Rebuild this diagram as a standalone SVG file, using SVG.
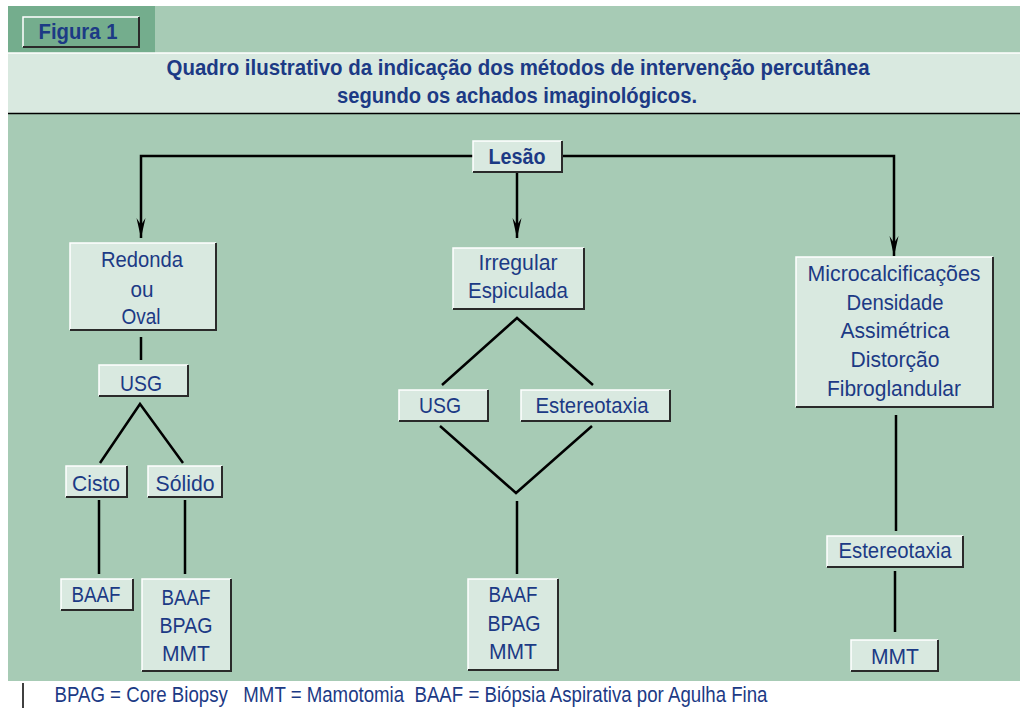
<svg xmlns="http://www.w3.org/2000/svg" width="1020" height="708" viewBox="0 0 1020 708">
<defs>
<style>
.t{font-family:"Liberation Sans Narrow","Liberation Sans",Arial,sans-serif;fill:#1C3A85;font-size:22px;text-anchor:middle}
.b{font-weight:bold}
.box{fill:#D9E9E0}
.hl{fill:none;stroke:#ffffff;stroke-width:1.5}
.sh{fill:none;stroke:#2a2a2a;stroke-width:2}
.c{fill:none;stroke:#000;stroke-width:2.5}
</style>
<marker id="ah" markerUnits="userSpaceOnUse" viewBox="-22 -6 24 12" refX="0" refY="0" markerWidth="24" markerHeight="12" orient="auto">
<path d="M0,0 L-20,-4.5 L-13,0 L-20,4.5 Z" fill="#000"/>
</marker>
</defs>
<rect x="0" y="0" width="1020" height="708" fill="#ffffff"/>
<rect x="8" y="6" width="1012" height="675" fill="#A7CBB5"/>
<rect x="8" y="6" width="147" height="47" fill="#74AD8D"/>
<rect x="8" y="53" width="1012" height="60" fill="#D9E9E0"/>
<line x1="8" y1="53" x2="1020" y2="53" stroke="#ffffff" stroke-width="1.5"/>
<line x1="8" y1="113.5" x2="1020" y2="113.5" stroke="#000" stroke-width="1.5"/>

<g id="figura">
<rect x="23" y="17" width="116" height="30" fill="#74AD8D"/>
<polyline class="hl" points="23,47 23,17 139,17"/>
<polyline class="sh" points="23,47 139,47 139,17"/>
<text class="t b" x="78" y="39" font-size="21" textLength="79" lengthAdjust="spacingAndGlyphs">Figura 1</text>
</g>

<g id="title">
<text class="t b" x="518" y="75" font-size="20" textLength="703" lengthAdjust="spacingAndGlyphs">Quadro ilustrativo da indicação dos métodos de intervenção percutânea</text>
<text class="t b" x="517" y="103" font-size="20" textLength="360" lengthAdjust="spacingAndGlyphs">segundo os achados imaginológicos.</text>
</g>

<g id="connectors">
<path class="c" d="M473 156 H141 V238" marker-end="url(#ah)"/>
<path class="c" d="M562 156 H894 V256" marker-end="url(#ah)"/>
<path class="c" d="M517 172 V238" marker-end="url(#ah)"/>
<path class="c" d="M141 337 V360"/>
<path class="c" d="M100 463 L140 404 L183 463"/>
<path class="c" d="M99 500 V574"/>
<path class="c" d="M185 500 V574"/>
<path class="c" d="M442 385 L517 318 L593 385"/>
<path class="c" d="M440 426 L516 493 L592 426"/>
<path class="c" d="M517 501 V574"/>
<path class="c" d="M896 415 V531"/>
<path class="c" d="M895 571 V632"/>
</g>

<g id="lesao">
<rect class="box" x="473" y="141" width="89" height="31"/>
<polyline class="hl" points="473,172 473,141 562,141"/>
<polyline class="sh" points="473,172 562,172 562,141"/>
<text class="t b" x="517" y="164" font-size="23" textLength="57" lengthAdjust="spacingAndGlyphs">Lesão</text>
</g>

<g id="redonda">
<rect class="box" x="70" y="243" width="146" height="87"/>
<polyline class="hl" points="70,330 70,243 216,243"/>
<polyline class="sh" points="70,330 216,330 216,243"/>
<text class="t" x="142" y="267" textLength="82" lengthAdjust="spacingAndGlyphs">Redonda</text>
<text class="t" x="142" y="297" textLength="23" lengthAdjust="spacingAndGlyphs">ou</text>
<text class="t" x="141" y="324" textLength="39" lengthAdjust="spacingAndGlyphs">Oval</text>
</g>

<g id="usg-left">
<rect class="box" x="99" y="365" width="89" height="31"/>
<polyline class="hl" points="99,396 99,365 188,365"/>
<polyline class="sh" points="99,396 188,396 188,365"/>
<text class="t" x="141" y="391" textLength="42" lengthAdjust="spacingAndGlyphs">USG</text>
</g>

<g id="cisto">
<rect class="box" x="66" y="466" width="61" height="31"/>
<polyline class="hl" points="66,497 66,466 127,466"/>
<polyline class="sh" points="66,497 127,497 127,466"/>
<text class="t" x="96" y="491" textLength="48" lengthAdjust="spacingAndGlyphs">Cisto</text>
</g>

<g id="solido">
<rect class="box" x="148" y="466" width="74" height="31"/>
<polyline class="hl" points="148,497 148,466 222,466"/>
<polyline class="sh" points="148,497 222,497 222,466"/>
<text class="t" x="185" y="491" textLength="59" lengthAdjust="spacingAndGlyphs">Sólido</text>
</g>

<g id="baaf-left">
<rect class="box" x="61" y="579" width="72" height="31"/>
<polyline class="hl" points="61,610 61,579 133,579"/>
<polyline class="sh" points="61,610 133,610 133,579"/>
<text class="t" x="96" y="602" textLength="49" lengthAdjust="spacingAndGlyphs">BAAF</text>
</g>

<g id="metodos-solido">
<rect class="box" x="142" y="579" width="89" height="92"/>
<polyline class="hl" points="142,671 142,579 231,579"/>
<polyline class="sh" points="142,671 231,671 231,579"/>
<text class="t" x="186" y="605" textLength="49" lengthAdjust="spacingAndGlyphs">BAAF</text>
<text class="t" x="186" y="633" textLength="53" lengthAdjust="spacingAndGlyphs">BPAG</text>
<text class="t" x="186" y="661" textLength="48" lengthAdjust="spacingAndGlyphs">MMT</text>
</g>

<g id="irregular">
<rect class="box" x="453" y="248" width="131" height="61"/>
<polyline class="hl" points="453,309 453,248 584,248"/>
<polyline class="sh" points="453,309 584,309 584,248"/>
<text class="t" x="518" y="270" textLength="79" lengthAdjust="spacingAndGlyphs">Irregular</text>
<text class="t" x="518" y="298" textLength="100" lengthAdjust="spacingAndGlyphs">Espiculada</text>
</g>

<g id="usg-mid">
<rect class="box" x="399" y="390" width="89" height="31"/>
<polyline class="hl" points="399,421 399,390 488,390"/>
<polyline class="sh" points="399,421 488,421 488,390"/>
<text class="t" x="440" y="413" textLength="42" lengthAdjust="spacingAndGlyphs">USG</text>
</g>

<g id="estereo-mid">
<rect class="box" x="521" y="390" width="149" height="31"/>
<polyline class="hl" points="521,421 521,390 670,390"/>
<polyline class="sh" points="521,421 670,421 670,390"/>
<text class="t" x="592" y="413" textLength="113" lengthAdjust="spacingAndGlyphs">Estereotaxia</text>
</g>

<g id="metodos-mid">
<rect class="box" x="468" y="579" width="90" height="91"/>
<polyline class="hl" points="468,670 468,579 558,579"/>
<polyline class="sh" points="468,670 558,670 558,579"/>
<text class="t" x="513" y="602" textLength="49" lengthAdjust="spacingAndGlyphs">BAAF</text>
<text class="t" x="514" y="631" textLength="53" lengthAdjust="spacingAndGlyphs">BPAG</text>
<text class="t" x="513" y="659" textLength="48" lengthAdjust="spacingAndGlyphs">MMT</text>
</g>

<g id="micro">
<rect class="box" x="796" y="257" width="197" height="150"/>
<polyline class="hl" points="796,407 796,257 993,257"/>
<polyline class="sh" points="796,407 993,407 993,257"/>
<text class="t" x="894" y="281" textLength="173" lengthAdjust="spacingAndGlyphs">Microcalcificações</text>
<text class="t" x="895" y="310" textLength="97" lengthAdjust="spacingAndGlyphs">Densidade</text>
<text class="t" x="895" y="338" textLength="109" lengthAdjust="spacingAndGlyphs">Assimétrica</text>
<text class="t" x="895" y="367" textLength="89" lengthAdjust="spacingAndGlyphs">Distorção</text>
<text class="t" x="894" y="396" textLength="134" lengthAdjust="spacingAndGlyphs">Fibroglandular</text>
</g>

<g id="estereo-right">
<rect class="box" x="827" y="536" width="136" height="31"/>
<polyline class="hl" points="827,567 827,536 963,536"/>
<polyline class="sh" points="827,567 963,567 963,536"/>
<text class="t" x="895" y="558" textLength="113" lengthAdjust="spacingAndGlyphs">Estereotaxia</text>
</g>

<g id="mmt-right">
<rect class="box" x="851" y="640" width="87" height="31"/>
<polyline class="hl" points="851,671 851,640 938,640"/>
<polyline class="sh" points="851,671 938,671 938,640"/>
<text class="t" x="895" y="664" textLength="48" lengthAdjust="spacingAndGlyphs">MMT</text>
</g>

<g id="footer">
<line x1="23" y1="683" x2="23" y2="708" stroke="#000" stroke-width="1.5"/>
<text class="t" x="411" y="702" font-size="19" textLength="713" lengthAdjust="spacingAndGlyphs" xml:space="preserve">BPAG = Core Biopsy   MMT = Mamotomia  BAAF = Biópsia Aspirativa por Agulha Fina</text>
</g>
</svg>
